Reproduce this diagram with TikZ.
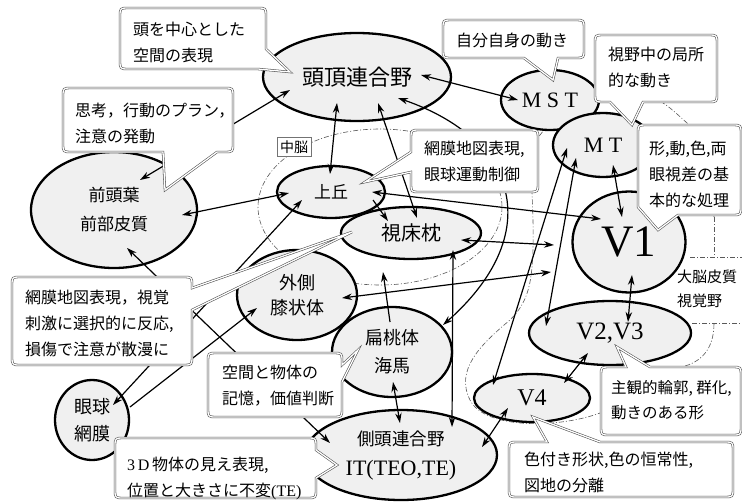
\documentclass[tikz,border=0pt]{standalone}
\usepackage{fontspec}
\setmainfont{Liberation Serif}
\newfontfamily\jp{Noto Sans CJK JP}
\usetikzlibrary{shapes.geometric,arrows.meta,calc}
\begin{document}
\begin{tikzpicture}[x=1pt,y=-1pt,
  ell/.style={ellipse, draw, line width=2.3pt, fill=black!6, inner sep=0pt, align=center},
  co/.style={draw=black!70, line width=0.55pt, double=white, double distance=1.3pt, fill=white},
  cotext/.style={font=\jp\fontsize{16}{26}\selectfont, align=left, inner sep=0pt, anchor=west},
  tip/.style={line width=1.2pt, -{Stealth[length=10pt,width=6.5pt]}},
  dtip/.style={line width=1.2pt, {Stealth[length=10pt,width=6.5pt]}-{Stealth[length=10pt,width=6.5pt]}},
  reg/.style={draw=black!65, line width=0.6pt, dash pattern=on 5pt off 2pt on 1pt off 2pt},
  jpl/.style={font=\jp\fontsize{15}{24}\selectfont, inner sep=0pt, anchor=west},
]
\fill[white] (0,0) rectangle (742,501);
\useasboundingbox (0,0) rectangle (742,501);

% ---------- region boundaries ----------
\draw[reg] (380,207) ellipse [x radius=122, y radius=78];
\draw[reg] (714,217) .. controls (712,160) and (700,130) .. (687,123)
  .. controls (675,112) and (668,106) .. (663,103)
  .. controls (640,80) and (600,85) .. (575,105)
  .. controls (555,120) and (545,128) .. (540,135)
  .. controls (528,150) and (532,180) .. (533,220)
  .. controls (534,280) and (530,300) .. (510,320)
  .. controls (480,345) and (455,370) .. (470,400)
  .. controls (485,430) and (560,428) .. (600,413)
  .. controls (630,400) and (660,372) .. (685,366)
  .. controls (705,360) and (714,345) .. (714,323);
\draw[reg] (714,217) -- (714,257);
\draw[reg] (690,257) -- (742,257);
\draw[reg] (692,323) -- (742,323);
\node[draw=black!55, line width=0.5pt, fill=white, inner sep=3pt, font=\jp\fontsize{14}{16}\selectfont] (mb) at (294,147) {中脳};

% ---------- ellipses ----------
\node[ell, minimum width=166pt, minimum height=116pt, font=\jp\fontsize{17}{29}\selectfont] (pfc) at (114,210) {前頭葉\\前部皮質};
\node[ell, minimum width=74pt, minimum height=80pt, font=\jp\fontsize{18}{27}\selectfont] (eye) at (92,420) {眼球\\網膜};
\node[ell, minimum width=188pt, minimum height=88pt, font=\jp\fontsize{22}{26}\selectfont] (ptl) at (357,77) {頭頂連合野};
\node[ell, minimum width=98pt, minimum height=60pt, font=\fontsize{22}{26}\selectfont] (mst) at (550,100) {M S T};
\node[ell, minimum width=100pt, minimum height=64pt, font=\fontsize{22}{26}\selectfont] (mt) at (603,145) {M T};
\node[ell, minimum width=113pt, minimum height=101pt, font=\fontsize{45}{50}\selectfont] (v1) at (629,242) {V1};
\node[ell, minimum width=162pt, minimum height=64pt, font=\fontsize{25}{28}\selectfont] (v23) at (610,333) {V2,V3};
\node[ell, minimum width=116pt, minimum height=48pt, font=\fontsize{24}{28}\selectfont] (v4) at (532,398) {V4};
\node[ell, minimum width=108pt, minimum height=52pt, font=\jp\fontsize{17}{20}\selectfont] (sc) at (331,192) {上丘};
\node[ell, minimum width=140pt, minimum height=52pt, font=\jp\fontsize{20}{24}\selectfont] (pul) at (411,233) {視床枕};
\node[ell, minimum width=120pt, minimum height=90pt, font=\jp\fontsize{18}{25}\selectfont] (lgn) at (297,295) {外側\\膝状体};
\node[ell, minimum width=120pt, minimum height=90pt, font=\jp\fontsize{18}{28}\selectfont] (amy) at (392,352) {扁桃体\\海馬};
\node[ell, minimum width=192pt, minimum height=90pt, font=\fontsize{22}{30}\selectfont] (it) at (401,455) {{\jp\fontsize{17.5}{30}\selectfont 側頭連合野}\\IT(TEO,TE)};

% ---------- connectors ----------
\draw[dtip] ($(pfc)+(26,-30)$) -- ($(ptl)+(-67,13)$);
\draw[dtip] ($(pfc)+(68,5)$) -- ($(sc)+(-42,1)$);
\draw[dtip] ($(pfc)+(13,38)$) -- ($(it)+(-71,-12)$);
\draw[dtip] ($(sc)+(-29,8)$) -- ($(eye)+(21,-15)$);
\draw[tip] ($(eye)+(38,-13)$) -- ($(lgn)+(-40,13)$);
\draw[dtip] ($(ptl)+(-20,26)$) -- ($(sc)+(-1,-18)$);
\draw[dtip] ($(ptl)+(21,26)$) -- ($(pul)+(6,-15)$);
\draw[dtip] ($(ptl)+(41,21)$) .. controls (520,140) and (545,235) .. ($(amy)+(51,-27)$);
\draw[dtip] ($(ptl)+(64,-2)$) -- ($(mst)+(-32,0)$);
\draw[dtip] ($(sc)+(41,0)$) -- ($(v1)+(-28,-23)$);
\draw[tip] ($(sc)+(42,8)$) -- ($(pul)+(-23,-12)$);
\draw[dtip] ($(pul)+(50,7)$) -- ($(v1)+(-75,3)$);
\draw[dtip] ($(lgn)+(45,3)$) -- ($(v1)+(-78,30)$);
\draw[dtip] ($(pul)+(42,17)$) -- ($(it)+(51,-28)$);
\draw[tip] ($(amy)+(-2,-30)$) -- ($(pul)+(-28,39)$);
\draw[dtip] ($(amy)+(1,30)$) -- ($(it)+(-1,-32)$);
\draw[dtip] ($(it)+(81,-8)$) -- ($(v4)+(-24,10)$);
\draw[dtip] ($(v4)+(32,-15)$) -- ($(v23)+(-22,20)$);
\draw[dtip] ($(v1)+(3,33)$) -- ($(v23)+(18,-11)$);
\draw[dtip] ($(mt)+(10,20)$) -- ($(v1)+(-7,-25)$);
\draw[dtip] ($(mt)+(-36,3)$) -- ($(v4)+(-39,-13)$);
\draw[dtip] ($(mt)+(-27,13)$) -- ($(v23)+(-64,-7)$);

% ---------- callouts ----------
% A
\draw[co] (129,8) -- (257,8) .. controls (266,8) .. (266,17) -- (266,49) -- (290,72) -- (258,69) -- (129,69) .. controls (120,69) .. (120,60) -- (120,17) .. controls (120,8) .. (129,8) -- cycle;
\node[cotext] (ta) at (133,42) {頭を中心とした\\空間の表現};
% B
\draw[co] (72,88) -- (224,88) .. controls (233,88) .. (233,97) -- (233,143) .. controls (233,152) .. (224,152) -- (217,152) -- (165,190) -- (163,152) -- (72,152) .. controls (63,152) .. (63,143) -- (63,97) .. controls (63,88) .. (72,88) -- cycle;
\node[cotext] (tb) at (75,123) {思考，行動のプラン，\\注意の発動};
% D
\draw[co] (452,20) -- (575,20) .. controls (584,20) .. (584,29) -- (584,49) .. controls (584,58) .. (575,58) -- (558,58) -- (553,80) -- (524,58) -- (452,58) .. controls (443,58) .. (443,49) -- (443,29) .. controls (443,20) .. (452,20) -- cycle;
\node[cotext] (td) at (456,40) {自分自身の動き};
% E
\draw[co] (604,35) -- (708,35) .. controls (717,35) .. (717,44) -- (717,93) .. controls (717,102) .. (708,102) -- (643,102) -- (632,125) -- (610,102) -- (604,102) .. controls (595,102) .. (595,93) -- (595,44) .. controls (595,35) .. (604,35) -- cycle;
\node[cotext] (te) at (608,67) {視野中の局所\\的な動き};
% F
\draw[co] (647,125) -- (732,125) .. controls (741,125) .. (741,134) -- (741,206) .. controls (741,215) .. (732,215) -- (678,215) -- (658,230) -- (638,207) -- (638,134) .. controls (638,125) .. (647,125) -- cycle;
\node[cotext] (tf) at (649,174) {形,動,色,両\\眼視差の基\\本的な処理};
% G
\draw[co] (420,130) -- (529,130) .. controls (538,130) .. (538,139) -- (538,183) .. controls (538,192) .. (529,192) -- (420,192) .. controls (411,192) .. (411,183) -- (411,172) -- (365,182) -- (411,152) -- (411,139) .. controls (411,130) .. (420,130) -- cycle;
\node[cotext] (tg) at (424,161) {網膜地図表現,\\眼球運動制御};
% H
\draw[co] (21,277) -- (183,277) .. controls (192,277) .. (192,286) -- (192,288) -- (352,232) -- (192,310) -- (192,356) .. controls (192,365) .. (183,365) -- (21,365) .. controls (12,365) .. (12,356) -- (12,286) .. controls (12,277) .. (21,277) -- cycle;
\node[cotext] (th) at (25,323) {網膜地図表現，視覚\\刺激に選択的に反応,\\損傷で注意が散漫に};
% I
\draw[co] (217,353) -- (333,353) .. controls (342,353) .. (342,362) -- (342,365) -- (358,350) -- (342,382) -- (342,408) .. controls (342,417) .. (333,417) -- (217,417) .. controls (208,417) .. (208,408) -- (208,362) .. controls (208,353) .. (217,353) -- cycle;
\node[cotext] (ti) at (222,386) {空間と物体の\\記憶，価値判断};
% J
\draw[co] (124,438) -- (307,438) .. controls (316,438) .. (316,447) -- (316,450) -- (337,465) -- (316,478) -- (316,489) .. controls (316,498) .. (307,498) -- (124,498) .. controls (115,498) .. (115,489) -- (115,447) .. controls (115,438) .. (124,438) -- cycle;
\node[cotext] (tj) at (127,478) {{\fontsize{16}{26}\rmfamily 3\,D\,}物体の見え表現,\\位置と大きさに不変{\rmfamily (TE)}};
% K
\draw[co] (610,367) -- (626,367) -- (617,347) -- (650,367) -- (732,367) .. controls (741,367) .. (741,376) -- (741,426) .. controls (741,435) .. (732,435) -- (610,435) .. controls (601,435) .. (601,426) -- (601,376) .. controls (601,367) .. (610,367) -- cycle;
\node[cotext, font=\jp\fontsize{15.5}{25}\selectfont] (tk) at (611,400) {主観的輪郭, 群化,\\動きのある形};
% L
\draw[co] (518,442) -- (547,442) -- (533,417) -- (600,442) -- (724,442) .. controls (733,442) .. (733,451) -- (733,488) .. controls (733,497) .. (724,497) -- (518,497) .. controls (509,497) .. (509,488) -- (509,451) .. controls (509,442) .. (518,442) -- cycle;
\node[cotext] (tl) at (524,472) {色付き形状,色の恒常性,\\図地の分離};

% ---------- labels ----------
\node[jpl] (cx) at (677,277) {大脳皮質};
\node[jpl] (va) at (677,301) {視覚野};
\end{tikzpicture}
\end{document}
